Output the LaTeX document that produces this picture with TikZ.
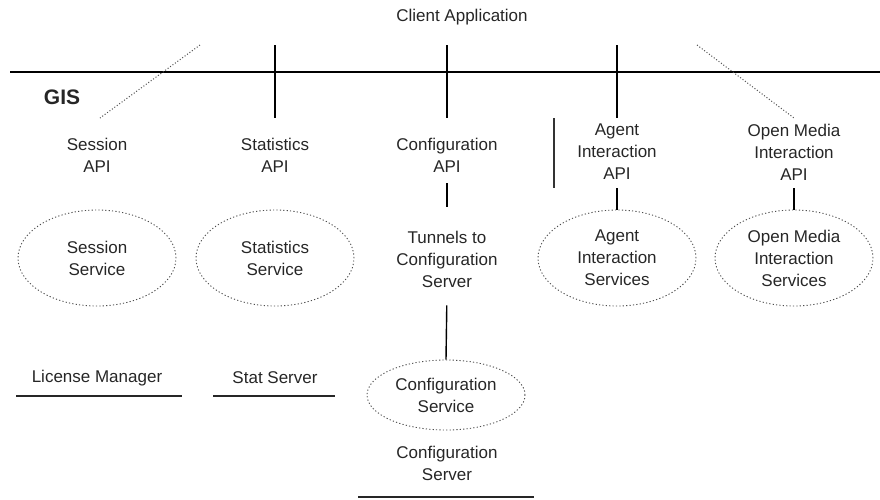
\documentclass[tikz,border=0pt]{standalone}
\usepackage{fontspec}
\setmainfont{Liberation Sans}
\usetikzlibrary{shapes.geometric}
\begin{document}
\begin{tikzpicture}[x=1pt,y=-1pt,
  every node/.style={font=\fontsize{17}{22}\selectfont, text=black!85, inner sep=3pt},
  lbl/.style={align=center},
  svc/.style={ellipse, draw=black!70, line width=0.9pt,
    dash pattern=on 1.2pt off 2.2pt, align=center,
    minimum width=158, minimum height=96},
  bus/.style={line width=1.6pt, black},
  link/.style={line width=1.4pt, black},
  dotlink/.style={line width=1pt, black!70, dash pattern=on 1pt off 2pt},
  rule/.style={line width=1.3pt, black!85}]
\useasboundingbox (0,0) rectangle (880,499);

% client side and the GIS boundary
\node (client) at (462,17) {Client Application};
\coordinate (busL) at (10,72);
\coordinate (busR) at (880,72);
\draw[bus] (busL) -- (busR);
\node[font=\fontsize{21}{24}\bfseries] (gis) at (62,97) {GIS};

% API layer
\node[lbl] (sesApi)  at (97,155)  {Session\\API};
\node[lbl] (statApi) at (275,155) {Statistics\\API};
\node[lbl] (cfgApi)  at (447,155) {Configuration\\API};
\node[lbl] (agApi)   at (617,152) {Agent\\Interaction\\API};
\node[lbl] (omApi)   at (794,152) {Open Media\\Interaction\\API};

% connections from the client application down through the bus
\coordinate (sesTop)  at (200,45);
\coordinate (statTop) at (275,45);
\coordinate (cfgTop)  at (447,45);
\coordinate (agTop)   at (617,45);
\coordinate (omTop)   at (697,45);
\coordinate (sesEnd)  at (100,118);
\coordinate (omEnd)   at (794,118);
\draw[dotlink] (sesTop) -- (sesEnd);
\draw[link, shorten >=17pt] (statTop) -- (statApi.north);
\draw[link, shorten >=17pt] (cfgTop) -- (cfgApi.north);
\draw[link, shorten >=3pt] (agTop) -- (agApi.north);
\draw[dotlink] (omTop) -- (omEnd);

% services
\node[svc] (sesSvc)  at (97,258)  {Session\\Service};
\node[svc] (statSvc) at (275,258) {Statistics\\Service};
\node[lbl] (tunnel)  at (447,259) {Tunnels to\\Configuration\\Server};
\node[svc] (agSvc)   at (617,258) {Agent\\Interaction\\Services};
\node[svc] (omSvc)   at (794,258) {Open Media\\Interaction\\Services};
\node[svc, minimum height=70] (cfgSvc) at (446,395) {Configuration\\Service};

% side bar beside the agent interaction API
\coordinate (agBarTop) at (554,118);
\coordinate (agBarBot) at (554,188);
\draw[line width=1.2pt, black!80] (agBarTop) -- (agBarBot);

% links between API and service layers
\draw[link, line width=1.1pt, shorten <=8pt, shorten >=21pt] (cfgApi.south) -- (tunnel.north);
\draw[link, line width=1.1pt, shorten <=5pt] (agApi.south) -- (agSvc.north);
\draw[link, line width=1.1pt, shorten <=5pt] (omApi.south) -- (omSvc.north);
\draw[link, shorten <=15pt] (tunnel.south) -- (cfgSvc.north);

% back-end servers
\node (lic)  at (97,378)  {License Manager};
\node (stat) at (275,378) {Stat Server};
\node[lbl] (cfgSrv) at (447,463) {Configuration\\Server};
\coordinate (licL) at (16,396);  \coordinate (licR) at (182,396);
\coordinate (statL) at (213,396); \coordinate (statR) at (335,396);
\coordinate (cfgL) at (358,497); \coordinate (cfgR) at (534,497);
\draw[rule] (licL) -- (licR);
\draw[rule] (statL) -- (statR);
\draw[rule] (cfgL) -- (cfgR);
\end{tikzpicture}
\end{document}
